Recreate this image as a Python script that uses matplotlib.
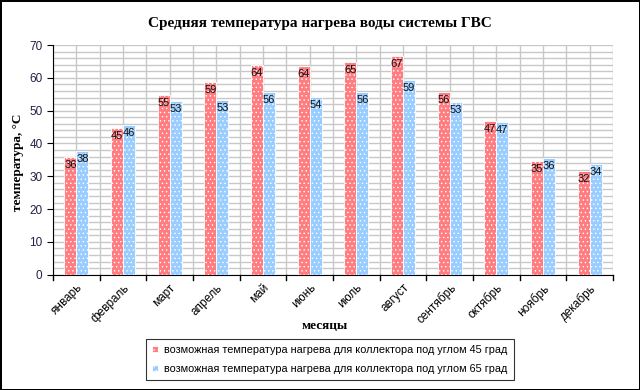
import numpy as np
import matplotlib
matplotlib.use('Agg')
import matplotlib.pyplot as plt
from matplotlib.ticker import MultipleLocator

months = ['январь', 'февраль', 'март', 'апрель', 'май', 'июнь', 'июль',
          'август', 'сентябрь', 'октябрь', 'ноябрь', 'декабрь']
t45 = [35.8, 44.6, 54.8, 58.6, 63.8, 63.5, 64.7, 66.6, 55.6, 46.8, 34.6, 31.6]
t65 = [37.6, 45.5, 53.0, 53.1, 55.6, 54.2, 55.6, 59.2, 52.6, 46.6, 35.5, 33.6]
label45 = 'возможная температура нагрева для коллектора под углом 45 град'
label65 = 'возможная температура нагрева для коллектора под углом 65 град'

plt.rcParams['font.family'] = ['Liberation Sans', 'DejaVu Sans']
plt.rcParams['hatch.linewidth'] = 0.5

fig = plt.figure(figsize=(6.4, 3.9), dpi=100)
fig.patch.set_edgecolor('black')
fig.patch.set_linewidth(2)
ax = fig.add_axes([53/640, 1-274.7/390, 560/640, 229.7/390])

x = np.arange(len(months))
w = 0.257
red = '#ff7c80'
blue = '#99ccff'
b1 = ax.bar(x - w/2, t45, w, color=red, edgecolor='white', hatch='....', linewidth=0.6, label=label45, zorder=3)
b2 = ax.bar(x + w/2, t65, w, color=blue, edgecolor='white', hatch='....', linewidth=0.6, label=label65, zorder=3)

for bars, vals in ((b1, t45), (b2, t65)):
    for r, v in zip(bars, vals):
        ax.text(r.get_x() + r.get_width()/2, v - 0.9, '%d' % round(v),
                ha='center', va='top', fontsize=8, color='#111111', zorder=4)

ax.set_xlim(-0.5, len(months) - 0.5)
ax.set_ylim(0, 70)
ax.yaxis.set_major_locator(MultipleLocator(10))
ax.yaxis.set_minor_locator(MultipleLocator(2))
ax.xaxis.set_minor_locator(MultipleLocator(0.5))
ax.grid(True, which='both', color='#c8c8c8', linewidth=1.0, zorder=0)
ax.set_axisbelow(True)
ax.tick_params(axis='y', which='minor', length=0)
ax.tick_params(axis='x', which='minor', length=0)

ax.set_xticks(x)
ax.set_xticklabels(months, rotation=45, ha='right', rotation_mode='anchor', fontsize=8.5)
ax.tick_params(axis='x', which='major', length=0, pad=5)
for b in np.arange(-0.5, len(months), 1.0):
    ax.plot([b, b], [0, -1.5], color='black', lw=1, clip_on=False)
ax.tick_params(axis='y', which='major', length=4, labelsize=8.5, labelcolor='#222244', color='black')

for s in ['top', 'right']:
    ax.spines[s].set_visible(False)
for s in ['left', 'bottom']:
    ax.spines[s].set_color('black')

serif = ['Liberation Serif', 'DejaVu Serif']
fig.text(0.5, 1-23/390, 'Средняя температура нагрева воды системы ГВС', ha='center', va='center',
         fontsize=11, fontweight='bold', family=serif)
fig.text(18/640, 1-162/390, 'температура, °С', ha='center', va='center', rotation=90,
         fontsize=9.5, fontweight='bold', family=serif)
fig.text(325/640, 1-326/390, 'месяцы', ha='center', va='center',
         fontsize=9.5, fontweight='bold', family=serif)

leg = fig.legend(handles=[b1, b2], loc='center', bbox_to_anchor=(330/640, 1-359.5/390),
                 fontsize=7.8, frameon=True, fancybox=False, edgecolor='black',
                 handlelength=0.5, handleheight=0.5, handletextpad=0.6, borderpad=0.55,
                 labelspacing=0.8)
leg.get_frame().set_linewidth(0.8)

fig.savefig('out.png', dpi=100)
